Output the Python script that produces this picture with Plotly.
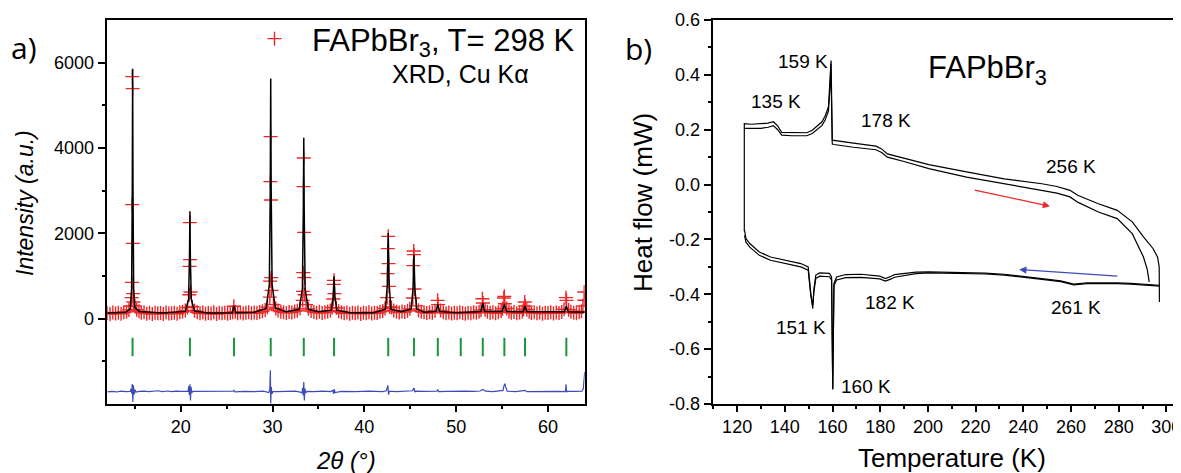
import plotly.graph_objects as go

W, H = 1181, 473

# ---------------- Panel a: XRD (Rietveld) ----------------
obs_2theta = [
    12.0, 12.3, 12.6, 12.9, 13.2, 13.5, 13.8, 14.1, 14.35, 14.55,
    14.66, 14.69, 14.71, 14.73, 14.76, 14.78, 14.81, 14.85,
    15.0, 15.2, 15.45, 15.7, 16.0, 16.3, 16.6, 16.9, 17.2, 17.5, 17.8, 18.1, 18.4, 18.7,
    19.0, 19.3, 19.6, 19.9, 20.2, 20.5, 20.75,
    20.93, 20.96, 20.99, 21.02, 21.06,
    21.25, 21.5, 21.8, 22.1, 22.4, 22.7, 23.0, 23.3, 23.6, 23.9, 24.2, 24.5, 24.8, 25.1, 25.4, 25.65,
    25.78,
    25.95, 26.2, 26.5, 26.8, 27.1, 27.4, 27.7, 28.0, 28.3, 28.6, 28.9, 29.2, 29.45,
    29.70, 29.73, 29.76, 29.79, 29.82, 29.85, 29.89,
    30.1, 30.35, 30.6, 30.9, 31.2, 31.5, 31.8, 32.1, 32.4, 32.7, 33.0,
    33.28, 33.31, 33.34, 33.37, 33.40, 33.43, 33.46, 33.50,
    33.65, 33.9, 34.2, 34.5, 34.8, 35.1, 35.4, 35.7, 36.0, 36.3, 36.5,
    36.62, 36.66, 36.70, 36.74,
    36.95, 37.2, 37.5, 37.8, 38.1, 38.4, 38.7, 39.0, 39.3, 39.6, 39.9, 40.2, 40.5, 40.8,
    41.1, 41.4, 41.7, 42.0, 42.25,
    42.48, 42.52, 42.56, 42.60, 42.64, 42.68, 42.74,
    42.95, 43.2, 43.5, 43.8, 44.1, 44.4, 44.7, 44.95,
    45.28, 45.33, 45.37, 45.41, 45.46,
    45.65, 45.9, 46.2, 46.5, 46.8, 47.1, 47.4, 47.7,
    47.98, 48.03,
    48.3, 48.6, 48.9, 49.2, 49.5, 49.8, 50.1, 50.4, 50.7, 51.0, 51.3, 51.6, 51.9, 52.2, 52.5, 52.7,
    52.86, 52.92,
    53.15, 53.4, 53.7, 54.0, 54.3, 54.6, 54.9, 55.05,
    55.20, 55.25, 55.30,
    55.5, 55.75, 56.0, 56.3, 56.6, 56.9, 57.2, 57.35,
    57.47, 57.53,
    57.7, 57.95, 58.2, 58.5, 58.8, 59.1, 59.4, 59.7, 60.0, 60.3, 60.6, 60.9, 61.2, 61.5, 61.75,
    61.96, 62.02,
    62.25, 62.5, 62.8, 63.1, 63.4, 63.65, 63.8, 63.95, 63.97,
]
obs_intensity = [
    128, 110, 145, 122, 138, 115, 150, 160, 205, 290,
    492, 851, 2672, 5672, 5391, 1765, 586, 389,
    300, 210, 175, 140, 152, 118, 136, 108, 141, 125, 133, 112, 147, 120,
    129, 138, 115, 150, 162, 190, 260,
    562, 1226, 2250, 1383, 624,
    280, 185, 150, 128, 142, 115, 133, 122, 148, 110, 137, 126, 140, 118, 131, 150,
    290,
    160, 128, 143, 119, 136, 150, 125, 142, 131, 158, 175, 205, 270,
    506, 881, 3211, 4266, 2780, 961, 663,
    330, 240, 190, 165, 148, 135, 158, 142, 170, 185, 240,
    429, 640, 1078, 3094, 3765, 2023, 961, 562,
    330, 230, 180, 158, 140, 162, 133, 150, 168, 190, 260,
    460, 804, 898, 586,
    250, 175, 150, 128, 142, 118, 136, 125, 147, 112, 138, 129, 150, 121,
    140, 133, 160, 178, 240,
    492, 1055, 1641, 1929, 1289, 757, 272,
    260, 190, 160, 145, 170, 155, 185, 230,
    484, 1242, 1585, 1500, 695,
    300, 200, 165, 148, 130, 152, 140, 185,
    429, 330,
    190, 150, 128, 145, 120, 138, 125, 150, 132, 118, 141, 127, 150, 136, 162, 200,
    468, 367,
    210, 160, 138, 152, 125, 148, 180, 230,
    484, 523, 350,
    240, 170, 140, 155, 128, 146, 170, 220,
    390, 296,
    210, 160, 135, 150, 126, 142, 118, 139, 130, 152, 124, 145, 133, 158, 220,
    492, 429,
    210, 160, 140, 128, 150, 175, 300, 624, 430,
]

calc_2theta = [
    12.0, 14.0, 14.5, 14.65, 14.72, 14.76, 14.80, 14.87, 15.0, 15.5, 18.0,
    20.5, 20.85, 20.95, 21.0, 21.05, 21.15, 21.5, 23.0,
    25.6, 25.8, 26.0, 28.0, 29.3, 29.65, 29.75, 29.8, 29.85, 29.95, 30.3, 31.5,
    32.9, 33.25, 33.35, 33.4, 33.45, 33.55, 33.9, 35.0,
    36.4, 36.6, 36.7, 36.8, 37.0, 38.5, 41.0,
    42.3, 42.5, 42.6, 42.7, 42.9, 44.0,
    45.1, 45.3, 45.4, 45.5, 45.7, 46.5,
    47.8, 48.0, 48.2, 50.0, 52.7, 52.9, 53.1, 55.0, 55.25, 55.5,
    57.3, 57.5, 57.7, 61.8, 62.0, 62.2, 64.0,
]
calc_intensity = [
    130, 150, 230, 700, 3000, 5860, 3000, 700, 260, 170, 130,
    170, 450, 1400, 2515, 1400, 450, 180, 135,
    140, 300, 140, 150, 240, 800, 3000, 5626, 3000, 800, 250, 160,
    220, 700, 2500, 4243, 2500, 700, 220, 160,
    200, 500, 991, 500, 200, 140, 140,
    220, 800, 2007, 800, 220, 160,
    230, 700, 1500, 700, 230, 150,
    170, 335, 170, 140, 170, 367, 170, 170, 335, 170,
    160, 296, 160, 160, 296, 160, 150,
]

diff_2theta = [
    12.0, 12.5, 13.0, 13.5, 14.0, 14.5, 14.6, 14.66, 14.72, 14.78, 14.84, 14.92, 15.0, 15.1,
    15.5, 16.0, 16.5, 17.0, 17.5, 18.0, 18.5, 19.0, 19.5, 20.0, 20.5,
    20.8, 20.88, 20.94, 21.0, 21.06, 21.12, 21.2, 21.3,
    22.0, 23.0, 24.0, 25.0, 25.7, 25.8, 25.9, 27.0, 28.0, 29.0,
    29.6, 29.7, 29.76, 29.8, 29.86, 29.94, 30.05,
    30.5, 31.5, 32.5, 33.0,
    33.2, 33.28, 33.34, 33.4, 33.46, 33.53, 33.62, 33.75,
    34.5, 35.5, 36.3,
    36.55, 36.65, 36.72, 36.8,
    37.5, 39.0, 40.5, 42.0,
    42.4, 42.5, 42.56, 42.64, 42.72,
    43.5, 44.5,
    45.25, 45.35, 45.42, 45.5, 45.6,
    46.5, 47.5, 47.9, 48.0, 48.1, 49.0, 50.0, 51.0, 52.0, 52.6, 52.9, 53.2, 54.0,
    55.1, 55.2, 55.3, 55.4, 55.55,
    56.5, 57.3, 57.5, 57.7, 59.0, 60.0, 61.0,
    61.9, 61.97, 62.03, 62.1,
    63.0, 63.7, 63.85, 64.0,
]
diff_intensity = [
    -1715, -1705, -1718, -1700, -1712, -1705, -1640, -1760, -1530, -1950, -1560, -1780, -1660, -1720,
    -1705, -1698, -1712, -1700, -1690, -1708, -1695, -1712, -1700, -1706, -1700,
    -1700, -1580, -1790, -1540, -1915, -1600, -1740, -1705,
    -1705, -1712, -1700, -1710, -1700, -1680, -1716, -1705, -1712, -1700,
    -1730, -1660, -1212, -1990, -1600, -1760, -1710,
    -1708, -1712, -1700, -1720,
    -1740, -1620, -1800, -1486, -1915, -1640, -1740, -1705,
    -1712, -1700, -1708,
    -1680, -1760, -1650, -1730,
    -1706, -1712, -1700, -1708,
    -1690, -1600, -1563, -1780, -1700,
    -1712, -1705,
    -1690, -1640, -1626, -1720, -1700,
    -1706, -1700, -1700, -1670, -1710, -1703, -1710, -1700, -1706, -1695, -1660, -1700, -1710,
    -1680, -1580, -1524, -1600, -1700,
    -1712, -1700, -1680, -1712, -1706, -1712, -1703,
    -1712, -1540, -1720, -1706,
    -1706, -1700, -1640, -1252,
]

bragg_2theta = [14.75, 21.0, 25.8, 29.8, 33.4, 36.7, 42.6, 45.4, 48.0, 50.5, 52.9, 55.25, 57.5, 62.0]

xrd_x_ticks = [20, 30, 40, 50, 60]
xrd_y_ticks = [0, 2000, 4000, 6000]

# ---------------- Panel b: DSC ----------------
heat_T_outer = [123.0, 123.0, 126, 130, 133, 135.2, 137, 138.7, 143, 149.2, 151.5, 153.4, 155.5, 156.9,
                158.3, 159.0, 159.4, 159.9, 160.6, 168.8, 178.2, 180.6, 183.0, 190, 200.4, 216.2, 232,
                247.8, 254.1, 259.6, 262.8, 271.5, 279.4, 285.7, 290.4, 294.4, 296.3, 297.0, 297.1]
heat_outer = [-0.17, 0.222, 0.220, 0.221, 0.224, 0.229, 0.214, 0.190, 0.189, 0.189, 0.198, 0.211, 0.228, 0.250,
              0.284, 0.393, 0.452, 0.162, 0.161, 0.151, 0.140, 0.130, 0.112, 0.097, 0.073, 0.046, 0.021,
              0.003, -0.007, -0.021, -0.039, -0.070, -0.094, -0.136, -0.191, -0.233, -0.264, -0.30, -0.428]

heat_T_inner = [123.2, 126, 130, 133, 135.2, 137, 138.7, 143, 149.2, 151.5, 153.4, 155.5, 156.9, 158.3,
                159.0, 159.3, 159.9, 160.6, 168.8, 178.2, 180.6, 183.0, 190, 200.4, 216.2, 232, 247.8,
                254.1, 259.6, 262.8, 271.5, 279.4, 285.7, 290.4, 292.0, 292.8]
heat_inner = [0.205, 0.204, 0.205, 0.209, 0.215, 0.200, 0.180, 0.178, 0.178, 0.186, 0.199, 0.215, 0.235, 0.268,
              0.36, 0.44, 0.148, 0.146, 0.136, 0.127, 0.117, 0.100, 0.084, 0.058, 0.027, 0.003, -0.019,
              -0.031, -0.045, -0.064, -0.100, -0.124, -0.179, -0.264, -0.31, -0.355]

cool_T = [297.2, 292, 285, 279.4, 273, 266.7, 261.2, 255.7, 247.8, 239.9, 232, 224, 216.2, 208, 200.4,
          195, 190.9, 186, 184.6, 182.2, 179.8, 176, 171.9, 165.6, 161.7, 160.6, 160.1, 159.6, 158.7,
          154.6, 153, 152.2, 151.7, 150.9, 149.8, 146.7, 140.3, 134, 129.3, 125.3, 123.7, 123.1]
cool_outer = [-0.367, -0.363, -0.360, -0.358, -0.357, -0.358, -0.363, -0.351, -0.343, -0.334, -0.327, -0.323,
              -0.321, -0.319, -0.318, -0.319, -0.322, -0.328, -0.334, -0.343, -0.334, -0.330, -0.327, -0.328,
              -0.337, -0.361, -0.747, -0.337, -0.324, -0.322, -0.330, -0.38, -0.452, -0.397, -0.300, -0.288,
              -0.276, -0.264, -0.246, -0.215, -0.197, -0.167]
cool_inner = [-0.370, -0.366, -0.363, -0.361, -0.360, -0.361, -0.366, -0.354, -0.346, -0.337, -0.330, -0.326,
              -0.324, -0.322, -0.322, -0.325, -0.330, -0.338, -0.344, -0.352, -0.344, -0.340, -0.338, -0.339,
              -0.348, -0.368, -0.745, -0.348, -0.336, -0.334, -0.342, -0.39, -0.44, -0.405, -0.312, -0.300,
              -0.288, -0.276, -0.258, -0.228, -0.210, -0.185]

dsc_y_ticks = [-0.8, -0.6, -0.4, -0.2, 0.0, 0.2, 0.4, 0.6]
dsc_y_ticktext = ["-0.8", "-0.6", "-0.4", "-0.2", "0.0", "0.2", "0.4", "0.6"]

dsc_labels = ["159 K", "135 K", "178 K", "256 K", "182 K", "261 K", "151 K", "160 K"]
dsc_label_px = [(803, 62), (776, 101), (886, 120), (1071, 166), (890, 302), (1076, 307), (801, 327), (866, 386)]

# ---------------- helpers & styles ----------------
OFF = 8  # the page body keeps its default 8 px margin


def pxx(x):
    return (x - OFF) / W


def pxy(y):
    return 1 - (y - OFF) / H


FONT = "Liberation Sans, Arial, sans-serif"
RED = "rgb(238,38,38)"
BLUE = "rgb(60,75,185)"
GREEN = "rgb(25,150,60)"
TICK_TOP, TICK_BOT = -450, -880

fig = go.Figure()

fig.add_trace(go.Scatter(
    x=obs_2theta, y=obs_intensity, mode="markers",
    marker=dict(symbol="cross-thin", size=10, line=dict(color=RED, width=1.4), color=RED),
    name="FAPbBr<sub>3</sub>, T= 298 K", showlegend=True, xaxis="x", yaxis="y"))
fig.add_trace(go.Scatter(
    x=calc_2theta, y=calc_intensity, mode="lines", line=dict(color="black", width=1.5),
    showlegend=False, xaxis="x", yaxis="y"))

bx, by = [], []
for p in bragg_2theta:
    bx += [p, p, None]
    by += [TICK_TOP, TICK_BOT, None]
fig.add_trace(go.Scatter(x=bx, y=by, mode="lines", line=dict(color=GREEN, width=2),
                         showlegend=False, xaxis="x", yaxis="y"))
fig.add_trace(go.Scatter(x=diff_2theta, y=diff_intensity, mode="lines", line=dict(color=BLUE, width=1.2),
                         showlegend=False, xaxis="x", yaxis="y"))

for tx, ty in [(cool_T, cool_outer), (cool_T, cool_inner), (heat_T_outer, heat_outer), (heat_T_inner, heat_inner)]:
    fig.add_trace(go.Scatter(x=tx, y=ty, mode="lines", line=dict(color="black", width=1.2),
                             showlegend=False, xaxis="x2", yaxis="y2"))

ydom = [pxy(404), pxy(20)]
axis_common = dict(showline=True, linecolor="black", linewidth=1.5, ticks="outside", tickwidth=1.5,
                   tickcolor="black", showgrid=False, zeroline=False, automargin=False,
                   ticklabeloverflow="allow",
                   tickfont=dict(family=FONT, size=18, color="black"))

fig.update_layout(
    template="none",
    width=W, height=H, autosize=False,
    margin=dict(l=0, r=0, t=0, b=0, pad=0),
    plot_bgcolor="white", paper_bgcolor="white",
    xaxis=dict(domain=[pxx(107.3), pxx(584.7)], range=[12, 64], tickvals=xrd_x_ticks, ticklen=6,
               mirror=True, anchor="y",
               minor=dict(tickvals=[15, 25, 35, 45, 55], ticklen=3.5, ticks="outside", tickwidth=1.5,
                          tickcolor="black"),
               **axis_common),
    yaxis=dict(domain=ydom, range=[-2000, 7000], tickvals=xrd_y_ticks, ticklen=8, mirror=True, anchor="x",
               minor=dict(tickvals=[-1000, 1000, 3000, 5000], ticklen=4, ticks="outside", tickwidth=1.5,
                          tickcolor="black"),
               **axis_common),
    xaxis2=dict(domain=[pxx(713.3), 1.0], range=[110, 309.5], tickmode="linear", tick0=120, dtick=20,
                ticklen=6, mirror=True, anchor="y2",
                minor=dict(tick0=110, dtick=10, ticklen=3.5, ticks="outside", tickwidth=1.5, tickcolor="black"),
                **axis_common),
    yaxis2=dict(domain=ydom, range=[-0.8, 0.6], tickvals=dsc_y_ticks, ticktext=dsc_y_ticktext, ticklen=8,
                mirror=True, anchor="x2",
                minor=dict(tickvals=[-0.7, -0.5, -0.3, -0.1, 0.1, 0.3, 0.5], ticklen=4, ticks="outside",
                           tickwidth=1.5, tickcolor="black"),
                **axis_common),
    legend=dict(x=pxx(580), y=pxy(12), xanchor="right", yanchor="top", bgcolor="rgba(0,0,0,0)",
                font=dict(family=FONT, size=31, color="black"), itemwidth=65, itemsizing="trace"),
)

ann = []


def text(t, x, y, size, **kw):
    d = dict(text=t, x=pxx(x), y=pxy(y), xref="paper", yref="paper", showarrow=False,
             font=dict(family=kw.pop("family", FONT), size=size, color="black"),
             xanchor=kw.pop("xanchor", "center"), yanchor=kw.pop("yanchor", "middle"))
    d.update(kw)
    ann.append(d)


text("a)", 24, 48, 30, family="Open Sans, sans-serif")
text("b)", 638, 49, 30, family="Open Sans, sans-serif")
text("XRD, Cu Kα", 531, 74, 25, xanchor="right")
text("<i>Intensity (a.u.)</i>", 25, 203, 23, textangle=-90)
text("<i>2θ (°)</i>", 346, 460, 24)
text("Heat flow (mW)", 643, 203, 26, textangle=-90)
text("Temperature (K)", 952, 458, 26)
text("FAPbBr<sub>3</sub>", 988, 70, 31)
for lab, (lx, ly) in zip(dsc_labels, dsc_label_px):
    text(lab, lx, ly, 19)

# heating / cooling direction arrows
ann.append(dict(x=251.2, y=-0.079, ax=219, ay=-0.019, xref="x2", yref="y2", axref="x2", ayref="y2",
                showarrow=True, arrowhead=2, arrowsize=1.2, arrowwidth=1.2, arrowcolor=RED, text=""))
ann.append(dict(x=238.3, y=-0.31, ax=280.1, ay=-0.334, xref="x2", yref="y2", axref="x2", ayref="y2",
                showarrow=True, arrowhead=2, arrowsize=1.2, arrowwidth=1.2, arrowcolor=BLUE, text=""))

fig.update_layout(annotations=ann)
fig.write_html("out.html")
